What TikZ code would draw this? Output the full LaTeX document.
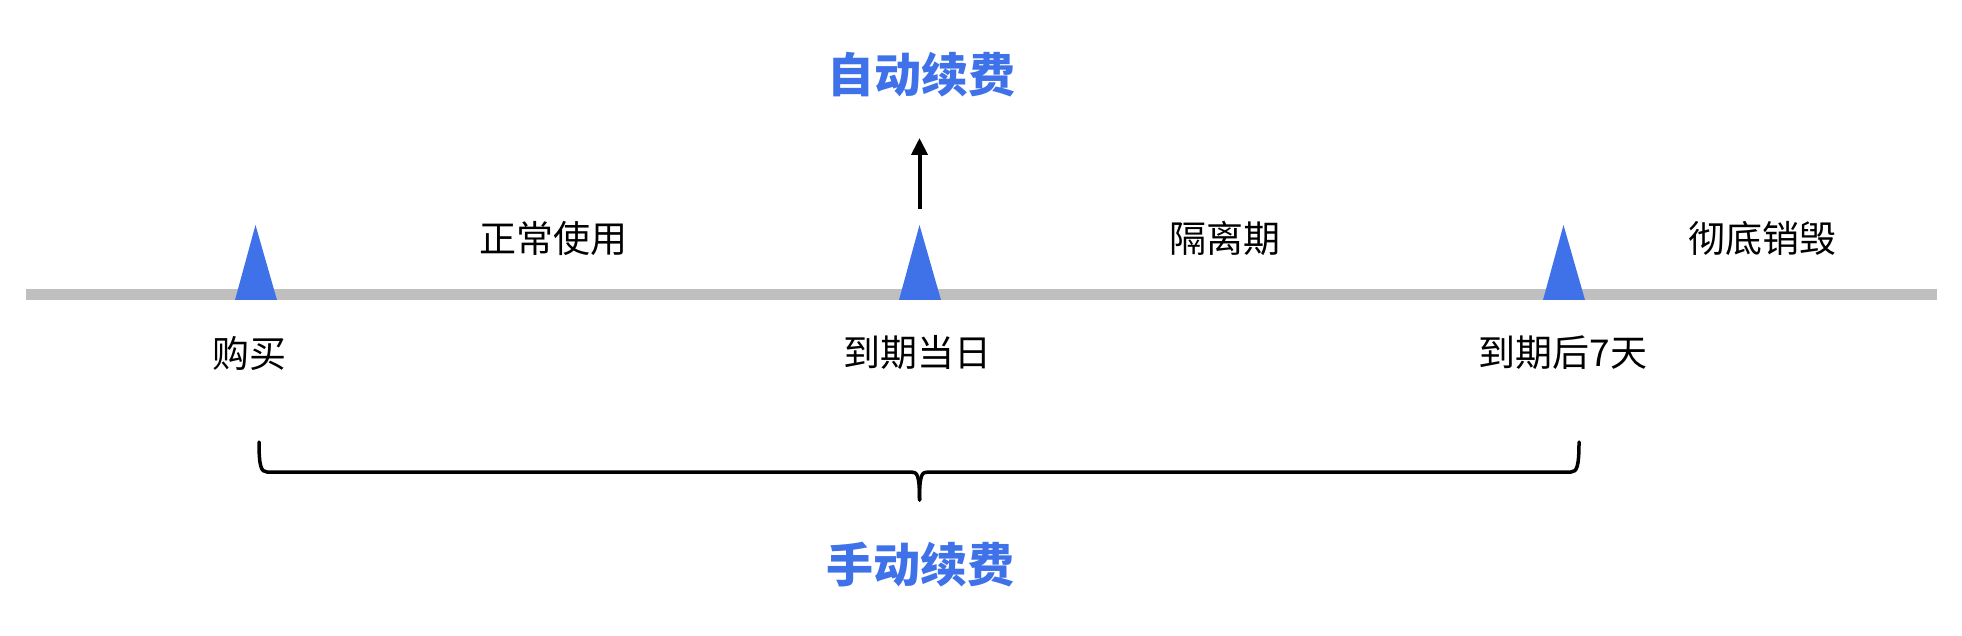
\documentclass[tikz,border=0pt]{standalone}
\usepackage{fontspec}
\newfontfamily\cjk{Noto Sans CJK SC}
\usetikzlibrary{arrows.meta}
\definecolor{tlgray}{HTML}{BFBFBF}
\definecolor{tlblue}{HTML}{3F72E8}
\begin{document}
\begin{tikzpicture}[x=1pt,y=-1pt,
  lbl/.style={inner sep=0pt,font=\cjk\fontsize{37}{40}\selectfont,text=black},
  title/.style={inner sep=0pt,font=\cjk\bfseries\fontsize{47}{52}\selectfont,text=tlblue},
  marker/.style={fill=tlblue,draw=none},
  axis/.style={draw=tlgray,line width=11pt},
  upar/.style={draw=black,line width=4pt,-{Triangle[width=16pt,length=17pt]}},
  brace/.style={draw=black,line width=3.5pt,line cap=round,line join=round}]
\useasboundingbox (0,0) rectangle (1962,636);
% axis
\coordinate (axL) at (26,295);
\coordinate (axR) at (1937,295);
\draw[axis] (axL) -- (axR);
% markers
\fill[marker] (235,300) -- (255.5,225) -- (277,300) -- cycle;
\fill[marker] (899,300) -- (919.5,225) -- (941,300) -- cycle;
\fill[marker] (1543,300) -- (1563.5,225) -- (1585,300) -- cycle;
% upper labels
\node[lbl] (use) at (553,238) {正常使用};
\node[lbl] (iso) at (1225,238) {隔离期};
\node[lbl] (des) at (1762,238) {彻底销毁};
% lower labels
\node[lbl] (buy) at (249,353) {购买};
\node[lbl] (due) at (917,353) {到期当日};
\node[lbl] (due7) at (1563,353) {到期后7天};
% titles
\node[title] (auto) at (921,75) {自动续费};
\node[title] (manual) at (920,565) {手动续费};
% arrow
\coordinate (arS) at (919.5,209);
\coordinate (arE) at (919.5,138);
\draw[upar] (arS) -- (arE);
% brace
\coordinate (brL) at (259,442);
\coordinate (brR) at (1579,442);
\coordinate (brM) at (919.5,500);
\draw[brace] (brL) .. controls (259,466) and (261,472) .. (267,472)
  -- (911,472) .. controls (917,472) and (919.5,474) .. (brM);
\draw[brace] (brR) .. controls (1579,466) and (1577,472) .. (1571,472)
  -- (928,472) .. controls (922,472) and (919.5,474) .. (brM);
\end{tikzpicture}
\end{document}
